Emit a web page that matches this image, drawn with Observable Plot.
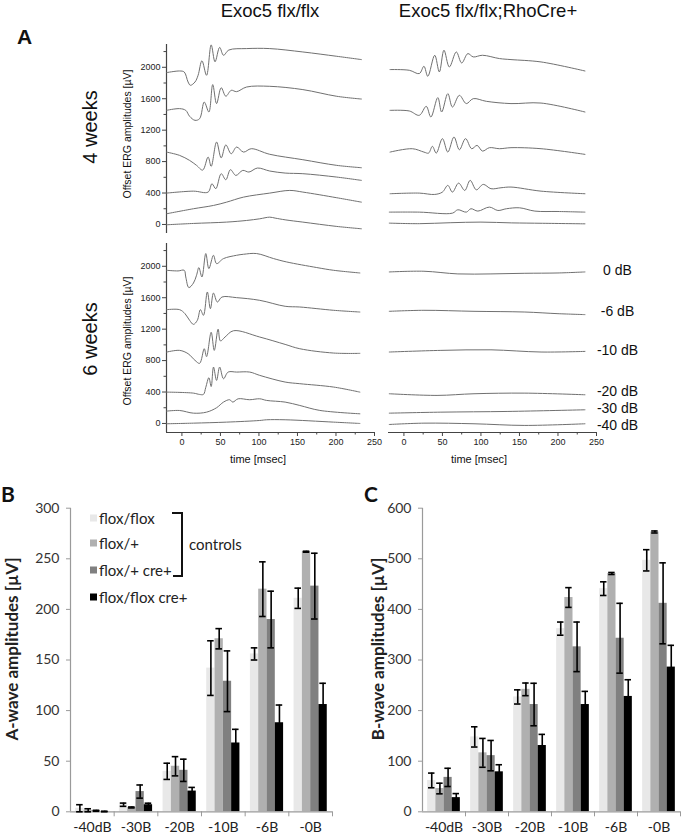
<!DOCTYPE html>
<html><head><meta charset="utf-8">
<script src="https://cdn.jsdelivr.net/npm/d3@7"></script>
<script src="https://cdn.jsdelivr.net/npm/@observablehq/plot@0.6"></script>
<style>
body{margin:0;background:#fff}
#fig{position:relative;width:683px;height:837px;overflow:hidden;background:#fff}
.pw{position:absolute}
</style></head><body><div id="fig"></div>
<script>
// ---------- ERG traces (time ms, offset amplitude µV) ----------
const tDomain = [-20, 250];
const vDomain = [-115, 2290];
const ergTicks = [0, 400, 800, 1200, 1600, 2000];
const ergMinorTicks = [200, 600, 1000, 1400, 1800, 2200];
const timeTicks = [0, 50, 100, 150, 200, 250];
const timeMinorTicks = [25, 75, 125, 175, 225];
const levels = ["0 dB", "-6 dB", "-10 dB", "-20 dB", "-30 dB", "-40 dB"];
const levelLabelY = [1949, 1427, 930, 408, 191, -25];

// 4 weeks, Exoc5 flx/flx
const w4ctl_0 = [[-20,1932],[-3,1953],[3,1940],[8,1813],[11,1771],[17,1813],[21,1898],[26,2083],[32,1898],[38,2285],[43,2070],[49,2253],[54,2153],[61,2220],[84,2238],[114,2238],[157,2195],[201,2140],[233,2098]];
const w4ctl_6 = [[-20,1452],[-3,1474],[5,1452],[10,1376],[17,1325],[23,1346],[29,1558],[35,1431],[40,1780],[45,1538],[51,1740],[57,1632],[64,1707],[71,1690],[84,1749],[114,1758],[157,1716],[201,1631],[233,1596]];
const w4ctl_10 = [[-20,921],[-3,879],[10,815],[19,752],[27,692],[34,858],[38,739],[45,1049],[51,847],[57,1012],[64,900],[71,985],[80,921],[90,964],[114,893],[157,824],[201,752],[233,722]];
const w4ctl_20 = [[-20,399],[15,424],[34,412],[39,518],[44,455],[51,646],[57,569],[63,697],[70,624],[79,688],[87,667],[98,718],[114,680],[134,654],[157,646],[201,603],[233,561]];
const w4ctl_30 = [[-20,136],[15,200],[41,242],[58,284],[80,348],[114,399],[140,433],[157,412],[201,340],[233,284]];
const w4ctl_40 = [[-20,-4],[15,13],[58,30],[84,51],[101,72],[114,93],[121,81],[134,59],[157,30],[201,-25],[233,-55]];

// 4 weeks, Exoc5 flx/flx;RhoCre+
const w4cre_0 = [[-18,1971],[7,1962],[20,1920],[26,2013],[31,1885],[40,2153],[46,1941],[52,2217],[59,2004],[68,2195],[75,2055],[83,2174],[90,2132],[102,2153],[124,2111],[139,2098],[178,2068],[235,1953]];
const w4cre_6 = [[-18,1452],[7,1444],[20,1389],[29,1503],[35,1367],[44,1614],[49,1431],[57,1665],[63,1494],[72,1643],[81,1538],[90,1601],[107,1567],[139,1538],[178,1545],[235,1431]];
const w4cre_10 = [[-18,921],[11,964],[26,921],[32,908],[37,994],[42,908],[50,1092],[57,921],[65,1113],[72,951],[80,1092],[88,964],[95,1006],[102,934],[111,977],[124,964],[139,977],[178,964],[235,892]];
const w4cre_20 = [[-18,391],[20,399],[40,382],[50,412],[57,497],[63,412],[71,526],[79,433],[86,561],[94,441],[103,510],[113,455],[126,467],[139,476],[178,424],[235,391]];
const w4cre_30 = [[-19,157],[20,157],[63,144],[70,187],[81,157],[87,200],[96,170],[111,221],[122,178],[133,200],[150,212],[170,170],[200,165],[235,157]];
const w4cre_40 = [[-19,17],[20,10],[60,22],[100,30],[140,20],[180,15],[235,8]];

// 6 weeks, Exoc5 flx/flx
const w6ctl_0 = [[-20,1949],[-5,1941],[3,1949],[5,1864],[9,1729],[15,1787],[19,1886],[22,1983],[26,1864],[31,2162],[35,1971],[41,2140],[45,2034],[54,2098],[71,2140],[80,2153],[97,2162],[119,2098],[136,2055],[175,1984],[197,1949],[231,1915]];
const w6ctl_6 = [[-20,1448],[-3,1448],[4,1397],[10,1312],[15,1261],[20,1312],[24,1448],[28,1376],[33,1673],[37,1461],[41,1660],[46,1545],[52,1609],[71,1601],[101,1567],[134,1491],[153,1482],[197,1440],[231,1418]];
const w6ctl_10 = [[-20,908],[-3,930],[8,888],[17,803],[23,765],[29,951],[32,850],[38,1160],[42,930],[47,1200],[50,1050],[56,1100],[67,1180],[101,1100],[134,1006],[153,951],[197,896],[231,892]];
const w6ctl_20 = [[-20,399],[15,386],[23,369],[28,370],[31,460],[35,582],[38,470],[41,718],[45,548],[49,718],[54,569],[60,654],[71,654],[88,654],[101,612],[134,527],[153,506],[197,463],[231,399]];
const w6ctl_30 = [[-20,157],[-3,165],[15,131],[32,144],[45,200],[54,272],[62,302],[66,272],[73,314],[88,302],[101,314],[110,293],[134,272],[153,229],[179,166],[231,123]];
const w6ctl_40 = [[-20,-4],[15,4],[58,17],[101,38],[110,47],[134,47],[197,17],[231,0]];

// 6 weeks, Exoc5 flx/flx;RhoCre+
const w6cre_0 = [[-19,1928],[26,1937],[70,1903],[113,1903],[157,1911],[200,1915],[235,1928]];
const w6cre_6 = [[-19,1427],[26,1440],[91,1427],[157,1418],[200,1397],[235,1385]];
const w6cre_10 = [[-19,909],[48,930],[113,937],[178,909],[235,917]];
const w6cre_20 = [[-19,378],[43,357],[91,378],[157,386],[235,365]];
const w6cre_30 = [[-19,131],[48,144],[135,153],[235,174]];
const w6cre_40 = [[-19,-13],[26,4],[91,-4],[157,-25],[235,-4]];

// ---------- Bar charts ----------
const categories = ["-40dB", "-30B", "-20B", "-10B", "-6B", "-0B"];
const genotypes = ["flox/flox", "flox/+", "flox/+ cre+", "flox/flox cre+"];
const barColors = ["#e8e8e8", "#b0b0b0", "#808080", "#000000"];
const aTicks = [0, 50, 100, 150, 200, 250, 300];
const bTicks = [0, 100, 200, 300, 400, 500, 600];

// A-wave amplitudes (µV): mean and error
const aFloxFlox = [3.5, 7, 40, 142, 156, 211];
const aFloxFloxErr = [3.5, 1.6, 8, 27, 6, 10];
const aFloxPlus = [1.5, 4.3, 45, 171, 220, 257];
const aFloxPlusErr = [1.5, 0.5, 9.5, 10, 27, 0.5];
const aFloxPlusCre = [1, 20, 41, 129, 190, 223];
const aFloxPlusCreErr = [0.5, 6.5, 11, 30, 28, 32.5];
const aFloxFloxCre = [0.3, 7, 20.5, 68, 88, 106];
const aFloxFloxCreErr = [0.3, 1.5, 3.6, 13.5, 17.5, 21];

// B-wave amplitudes (µV): mean and error
const bFloxFlox = [62, 148, 227, 362, 441, 497];
const bFloxFloxErr = [14.5, 20, 14, 13, 13.5, 21];
const bFloxPlus = [46, 116.5, 242, 423.5, 471, 553];
const bFloxPlusErr = [10.5, 28.5, 12.5, 19.5, 2, 2];
const bFloxPlusCre = [68, 111, 212, 326, 343, 412];
const bFloxPlusCreErr = [18, 30, 42, 49, 69, 80];
const bFloxFloxCre = [28, 79, 131, 212, 228, 286];
const bFloxFloxCreErr = [8, 14, 22, 26, 33, 43];

// ---------- drawing ----------
const fig = document.getElementById("fig");
const ARIAL = "'Liberation Sans', Arial, sans-serif";
const CAL = "Lato, 'Open Sans', sans-serif";
const axisDark = "#444";
const traceCol = "#707070";
const plain = d => String(d);

function place(node, left, top, width) {
  const d = document.createElement("div");
  d.className = "pw";
  d.style.left = left + "px"; d.style.top = top + "px"; d.style.width = width + "px";
  d.appendChild(node);
  fig.appendChild(d);
}

function toRows(traces) {
  return traces.flatMap((tr, i) => tr.map(([t, v]) => ({t, v, level: levels[i]})));
}

function ergPlot({traces, left, top, yAxis, xAxis, dbLabels}) {
  const width = yAxis ? 260 : 270;
  const marginLeft = yAxis ? 46 : 10;
  const marginRight = yAxis ? 6 : 52;
  const marginBottom = xAxis ? 35 : 0;
  const height = xAxis ? 228 : 193;
  const marks = [];
  if (yAxis) {
    marks.push(
      Plot.ruleX([tDomain[0]], {stroke: axisDark, strokeWidth: 1.2}),
      Plot.axisY(ergMinorTicks, {tickSize: 2.5, fill: "none", stroke: axisDark, label: null}),
      Plot.axisY(ergTicks, {tickSize: 4, tickPadding: 2, fontSize: 9, stroke: axisDark, fill: "#222", tickFormat: plain, label: null})
    );
  }
  if (xAxis) {
    marks.push(
      Plot.ruleY([vDomain[0]], {stroke: axisDark, strokeWidth: 1.2}),
      Plot.axisX(timeMinorTicks, {tickSize: 2.5, fill: "none", stroke: axisDark, label: null}),
      Plot.axisX(timeTicks, {tickSize: 4, tickPadding: 2, fontSize: 9, stroke: axisDark, fill: "#222", tickFormat: plain, label: null})
    );
  }
  marks.push(Plot.line(toRows(traces), {x: "t", y: "v", z: "level", stroke: traceCol, strokeWidth: 1, curve: "catmull-rom"}));
  if (dbLabels) {
    marks.push(Plot.text(levels, {frameAnchor: "right", y: (d, i) => levelLabelY[i], text: d => d, dx: 21, textAnchor: "middle", fontSize: 14, fill: "#111"}));
  }
  const p = Plot.plot({
    width, height, marginLeft, marginRight, marginTop: 4, marginBottom,
    x: {domain: tDomain, axis: null, label: null},
    y: {domain: vDomain, axis: null, label: null},
    style: {background: "transparent", overflow: "visible", fontFamily: ARIAL},
    marks
  });
  place(p, left, top, width);
}

ergPlot({traces: [w4ctl_0, w4ctl_6, w4ctl_10, w4ctl_20, w4ctl_30, w4ctl_40], left: 120, top: 40, yAxis: true, xAxis: false});
ergPlot({traces: [w4cre_0, w4cre_6, w4cre_10, w4cre_20, w4cre_30, w4cre_40], left: 378, top: 40, yAxis: false, xAxis: false});
ergPlot({traces: [w6ctl_0, w6ctl_6, w6ctl_10, w6ctl_20, w6ctl_30, w6ctl_40], left: 120, top: 239, yAxis: true, xAxis: true});
ergPlot({traces: [w6cre_0, w6cre_6, w6cre_10, w6cre_20, w6cre_30, w6cre_40], left: 378, top: 239, yAxis: false, xAxis: true, dbLabels: true});

const barW = 0.19;
const capHalf = 0.075;
const catIdx = categories.map((c, i) => i);
const groupEdges = categories.map((c, i) => i + 0.5);
const axisGray = "#9a9a9a";

function barChart({means, errs, ticks, yMax, left, width, marginLeft, marginRight}) {
  const rows = [];
  means.forEach((m, g) => m.forEach((v, c) => {
    const x1 = c + (g - 2) * barW;
    rows.push({g, c, x1, x2: x1 + barW, xc: x1 + barW / 2, v, e: errs[g][c]});
  }));
  const marks = [];
  genotypes.forEach((name, g) => {
    marks.push(Plot.rect(rows.filter(r => r.g === g), {x1: "x1", x2: "x2", y1: 0, y2: "v", fill: barColors[g]}));
  });
  marks.push(
    Plot.ruleY([0], {stroke: axisGray, strokeWidth: 1.2}),
    Plot.ruleX([-0.5], {stroke: axisGray, strokeWidth: 1.2}),
    Plot.ruleX(rows, {x: "xc", y1: d => d.v - d.e, y2: d => d.v + d.e, stroke: "#000", strokeWidth: 1.6}),
    Plot.ruleY(rows, {y: d => d.v + d.e, x1: d => d.xc - capHalf, x2: d => d.xc + capHalf, stroke: "#000", strokeWidth: 1.6}),
    Plot.ruleY(rows, {y: d => d.v - d.e, x1: d => d.xc - capHalf, x2: d => d.xc + capHalf, stroke: "#000", strokeWidth: 1.6}),
    Plot.axisY(ticks, {tickSize: 4, tickPadding: 7, fontSize: 14, stroke: axisGray, fill: "#333", tickFormat: plain, label: null}),
    Plot.axisX(groupEdges, {tickSize: 5, fill: "none", stroke: axisGray, label: null}),
    Plot.axisX(catIdx, {tickSize: 0, tickPadding: 10, tickFormat: i => categories[i], fontSize: 14, fill: "#222", label: null})
  );
  const p = Plot.plot({
    width, height: 345, marginLeft, marginRight, marginTop: 17.7, marginBottom: 23.7,
    x: {domain: [-0.5, 5.5], axis: null, label: null},
    y: {domain: [0, yMax], axis: null, label: null},
    style: {background: "transparent", overflow: "visible", fontFamily: CAL},
    marks
  });
  place(p, left, 490, width);
}

barChart({
  means: [aFloxFlox, aFloxPlus, aFloxPlusCre, aFloxFloxCre],
  errs: [aFloxFloxErr, aFloxPlusErr, aFloxPlusCreErr, aFloxFloxCreErr],
  ticks: aTicks, yMax: 300, left: 0, width: 340, marginLeft: 70, marginRight: 8
});
barChart({
  means: [bFloxFlox, bFloxPlus, bFloxPlusCre, bFloxFloxCre],
  errs: [bFloxFloxErr, bFloxPlusErr, bFloxPlusCreErr, bFloxFloxCreErr],
  ticks: bTicks, yMax: 600, left: 340, width: 343, marginLeft: 82, marginRight: 3
});

// ---------- loose text overlay ----------
const svg = d3.select(fig).append("svg")
  .attr("width", 683).attr("height", 837)
  .style("position", "absolute").style("left", 0).style("top", 0).style("pointer-events", "none");

function txt(s, x, y, {size = 12, weight = "normal", family = ARIAL, anchor = "start", rotate = false, baseline = null, fill = "#111"} = {}) {
  const t = svg.append("text").text(s)
    .attr("font-size", size).attr("font-weight", weight).attr("font-family", family)
    .attr("text-anchor", anchor).attr("fill", fill);
  if (rotate) {
    t.attr("transform", `translate(${x},${y}) rotate(-90)`).attr("dominant-baseline", "central").attr("text-anchor", "middle");
  } else {
    t.attr("x", x).attr("y", y);
    if (baseline) t.attr("dominant-baseline", baseline);
  }
  return t;
}

txt("A", 17, 44, {size: 21, weight: "bold"});
txt("Exoc5 flx/flx", 270, 17, {size: 18.5, anchor: "middle"});
txt("Exoc5 flx/flx;RhoCre+", 488, 17, {size: 18.5, anchor: "middle"});
txt("4 weeks", 90, 127, {size: 20, rotate: true});
txt("6 weeks", 90, 339, {size: 20, rotate: true});
txt("Offset ERG amplitudes [\u00b5V]", 127, 134, {size: 10.5, rotate: true});
txt("Offset ERG amplitudes [\u00b5V]", 127, 341, {size: 10.5, rotate: true});
txt("time [msec]", 258, 463, {size: 11, anchor: "middle"});
txt("time [msec]", 479, 463, {size: 11, anchor: "middle"});

txt("B", 1, 502, {size: 21, weight: "bold", family: CAL});
txt("C", 364, 502, {size: 21, weight: "bold", family: CAL});
txt("A-wave amplitudes [\u00b5V]", 11, 649, {size: 17, weight: "bold", family: CAL, rotate: true, fill: "#222"});
txt("B-wave amplitudes [\u00b5V]", 377, 649, {size: 17, weight: "bold", family: CAL, rotate: true, fill: "#222"});

// legend of panel B
const legendY = [518, 543, 570, 597];
genotypes.forEach((g, i) => {
  svg.append("rect").attr("x", 90).attr("y", legendY[i] - 3.5).attr("width", 7).attr("height", 7).attr("fill", barColors[i]);
  txt(g, 99, legendY[i], {size: 15, family: CAL, baseline: "central", fill: "#222"});
});
svg.append("path").attr("d", "M172,513H182V576H173").attr("fill", "none").attr("stroke", "#111").attr("stroke-width", 2);
txt("controls", 189, 544, {size: 15, family: CAL, baseline: "central", fill: "#222"});
</script>
</body></html>
